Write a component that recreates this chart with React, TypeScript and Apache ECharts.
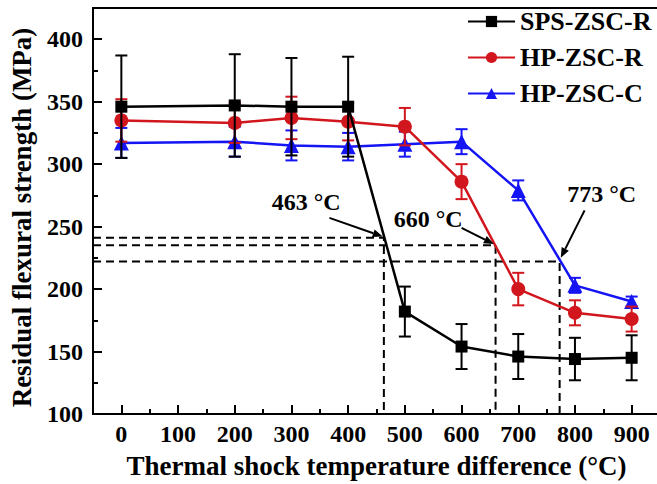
import { useEffect, useRef } from 'react';
import * as echarts from 'echarts';

// Data
const temps = [0, 200, 300, 400, 500, 600, 700, 800, 900];
const spsMean = [346, 347, 346, 346, 182, 154, 146, 144, 145];
const spsErr = [41, 41, 39, 40, 20, 18, 18, 17, 18];
const hpRMean = [335, 333, 337, 334, 330, 286, 200, 181, 176];
const hpRErr = [17, 16, 17, 15, 15, 14, 13, 10, 10];
const hpCMean = [317, 318, 315, 314, 316, 318, 279, 203, 190];
const hpCErr = [12, 12, 12, 11, 10, 10, 8, 6, 4];

const seriesNames = ['SPS-ZSC-R', 'HP-ZSC-R', 'HP-ZSC-C'];
const seriesColors = ['#000000', '#d2161e', '#1414f5'];

// Critical temperature difference and 70% strength level
const criticalTemps = [463, 660, 773];
const criticalLevels = [241, 235, 222];
const criticalLabels = ['463 °C', '660 °C', '773 °C'];
// annotation: text position, arrow start, arrow end (data coords)
const annoTextX = [326, 541, 847];
const annoTextY = [270, 256, 276];
const arrowFromX = [367, 600, 817];
const arrowFromY = [257, 249, 263];
const arrowToX = [461, 657, 775];
const arrowToY = [242, 236, 225];

const xMajor = [0, 100, 200, 300, 400, 500, 600, 700, 800, 900];
const xMinor = [50, 150, 250, 350, 450, 550, 650, 750, 850];
const yMajor = [100, 150, 200, 250, 300, 350, 400];
const yMinor = [125, 175, 225, 275, 325, 375];

const FONT = '"Liberation Serif", "Times New Roman", serif';
const CHART_W = 670;

export default function App() {
  const ref = useRef<HTMLDivElement>(null);
  useEffect(() => {
    if (!ref.current) return;
    const chart = echarts.init(ref.current, undefined, { renderer: 'svg' });

    const means = [spsMean, hpRMean, hpCMean];
    const errs = [spsErr, hpRErr, hpCErr];
    const symbols = ['rect', 'circle', 'triangle'];
    const symbolSizes = [12, 14, 15];

    const series: any[] = [];
    // draw order: blue bottom, red, black top
    [2, 1, 0].forEach((i) => {
      const color = seriesColors[i];
      series.push({
        name: seriesNames[i] + ' error',
        type: 'custom',
        z: 2 + (2 - i) * 2,
        encode: { x: 0, y: [1, 2] },
        data: temps.map((t, k) => [t, means[i][k] - errs[i][k], means[i][k] + errs[i][k]]),
        renderItem: (params: any, api: any) => {
          const x = api.value(0);
          const lo = api.coord([x, api.value(1)]);
          const hi = api.coord([x, api.value(2)]);
          const w = 6;
          const st = { stroke: color, lineWidth: 2 };
          return {
            type: 'group',
            children: [
              { type: 'line', shape: { x1: hi[0], y1: hi[1], x2: lo[0], y2: lo[1] }, style: st },
              { type: 'line', shape: { x1: hi[0] - w, y1: hi[1], x2: hi[0] + w, y2: hi[1] }, style: st },
              { type: 'line', shape: { x1: lo[0] - w, y1: lo[1], x2: lo[0] + w, y2: lo[1] }, style: st },
            ],
          };
        },
      });
      series.push({
        name: seriesNames[i],
        type: 'line',
        z: 3 + (2 - i) * 2,
        data: temps.map((t, k) => [t, means[i][k]]),
        symbol: symbols[i],
        symbolSize: symbolSizes[i],
        showAllSymbol: true,
        itemStyle: { color },
        lineStyle: { color, width: 2.5 },
      });
    });

    // dashed guide lines
    criticalTemps.forEach((t, k) => {
      series.push({
        name: 'guide' + k,
        type: 'line',
        z: 1,
        symbol: 'none',
        data: [
          [-50, criticalLevels[k]],
          [t, criticalLevels[k]],
          [t, 100],
        ],
        lineStyle: { color: '#000', width: 2, type: [8, 5] },
        silent: true,
      });
    });

    // annotations (text + arrow)
    series.push({
      name: 'annotations',
      type: 'custom',
      z: 20,
      encode: { x: 0, y: 1 },
      data: criticalTemps.map((_, k) => [
        annoTextX[k], annoTextY[k], arrowFromX[k], arrowFromY[k], arrowToX[k], arrowToY[k],
      ]),
      renderItem: (params: any, api: any) => {
        const k = params.dataIndex;
        const tp = api.coord([api.value(0), api.value(1)]);
        const a = api.coord([api.value(2), api.value(3)]);
        const b = api.coord([api.value(4), api.value(5)]);
        const dx = b[0] - a[0];
        const dy = b[1] - a[1];
        const len = Math.sqrt(dx * dx + dy * dy);
        const ux = dx / len;
        const uy = dy / len;
        const hl = 10;
        const hw = 4;
        const bx = b[0] - ux * hl;
        const by = b[1] - uy * hl;
        return {
          type: 'group',
          children: [
            {
              type: 'text',
              style: {
                text: criticalLabels[k],
                x: tp[0],
                y: tp[1],
                align: 'center',
                verticalAlign: 'middle',
                fill: '#000',
                fontSize: 24,
                fontWeight: 'bold',
                fontFamily: FONT,
              },
            },
            {
              type: 'line',
              shape: { x1: a[0], y1: a[1], x2: bx, y2: by },
              style: { stroke: '#000', lineWidth: 2 },
            },
            {
              type: 'polygon',
              shape: {
                points: [
                  [b[0], b[1]],
                  [bx - uy * hw, by + ux * hw],
                  [bx + uy * hw, by - ux * hw],
                ],
              },
              style: { fill: '#000' },
            },
          ],
        };
      },
    });

    const labelStyle = { color: '#000', fontSize: 24, fontWeight: 'bold', fontFamily: FONT };
    const titleStyle = { color: '#000', fontSize: 27, fontWeight: 'bold', fontFamily: FONT };

    chart.setOption({
      animation: false,
      backgroundColor: '#fff',
      grid: {
        left: 93,
        right: CHART_W - 660,
        top: 8,
        bottom: 67,
        show: true,
        borderColor: '#000',
        borderWidth: 2,
      },
      legend: {
        data: seriesNames,
        orient: 'vertical',
        left: 462,
        top: 3,
        itemWidth: 47,
        itemHeight: 14,
        itemGap: 9,
        selectedMode: false,
        textStyle: { color: '#000', fontSize: 26, fontWeight: 'bold', fontFamily: FONT, lineHeight: 27 },
      },
      xAxis: [
        {
          type: 'value',
          min: -50,
          max: 950,
          position: 'bottom',
          splitLine: { show: false },
          axisLine: { show: true, onZero: false, lineStyle: { color: '#000', width: 2 } },
          axisTick: { show: true, inside: true, length: 9, customValues: xMajor, lineStyle: { color: '#000', width: 2 } },
          axisLabel: { ...labelStyle, margin: 8, customValues: xMajor },
          name: 'Thermal shock temperature difference (°C)',
          nameLocation: 'middle',
          nameGap: 38,
          nameTextStyle: titleStyle,
        },
        {
          type: 'value',
          min: -50,
          max: 950,
          position: 'bottom',
          splitLine: { show: false },
          axisLine: { show: false, onZero: false },
          axisTick: { show: true, inside: true, length: 5, customValues: xMinor, lineStyle: { color: '#000', width: 2 } },
          axisLabel: { show: false },
        },
      ],
      yAxis: [
        {
          type: 'value',
          min: 100,
          max: 425,
          position: 'left',
          splitLine: { show: false },
          axisLine: { show: true, onZero: false, lineStyle: { color: '#000', width: 2 } },
          axisTick: { show: true, inside: true, length: 9, customValues: yMajor, lineStyle: { color: '#000', width: 2 } },
          axisLabel: { ...labelStyle, margin: 10, customValues: yMajor },
          name: 'Residual flexural strength (MPa)',
          nameLocation: 'middle',
          nameGap: 58,
          nameTextStyle: { ...titleStyle, padding: [0, 13, 0, 0] },
        },
        {
          type: 'value',
          min: 100,
          max: 425,
          position: 'left',
          splitLine: { show: false },
          axisLine: { show: false, onZero: false },
          axisTick: { show: true, inside: true, length: 5, customValues: yMinor, lineStyle: { color: '#000', width: 2 } },
          axisLabel: { show: false },
        },
      ],
      series,
    });

    return () => chart.dispose();
  }, []);

  return (
    <div
      style={{ position: 'absolute', left: 0, top: 0, width: 657, height: 484, overflow: 'hidden', background: '#fff' }}
    >
      <div ref={ref} style={{ width: CHART_W, height: 484 }} />
    </div>
  );
}
